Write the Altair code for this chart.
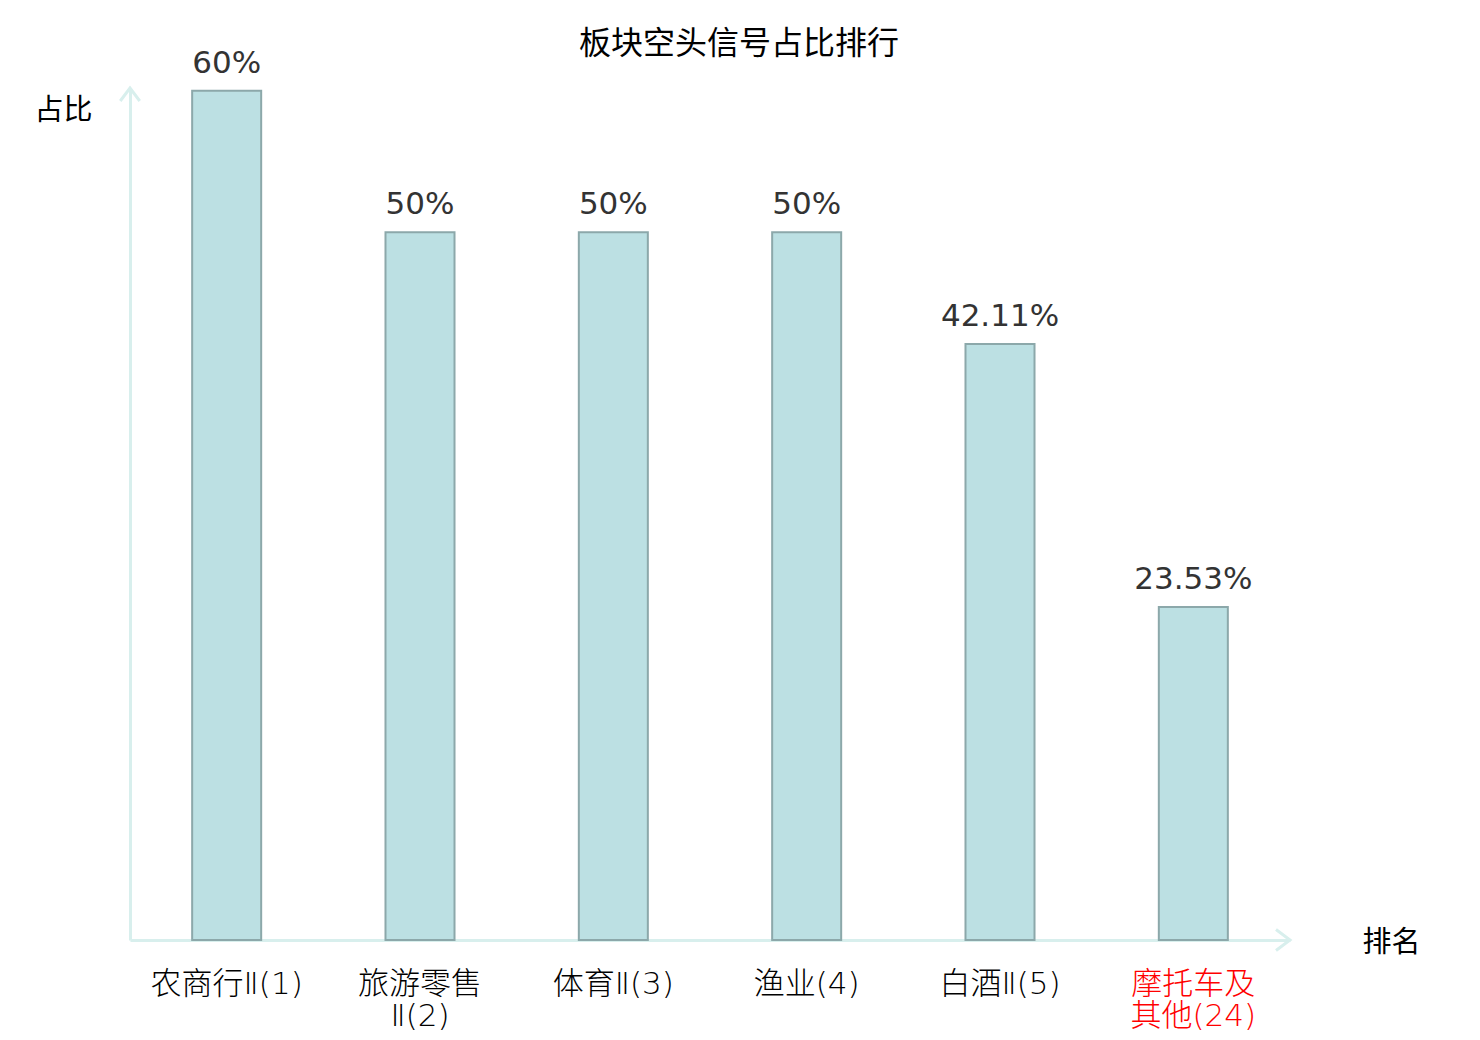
import altair as alt
import pandas as pd

# ---- data ----
categories = ["农商行Ⅱ(1)", "旅游零售\nⅡ(2)", "体育Ⅱ(3)", "渔业(4)", "白酒Ⅱ(5)", "摩托车及\n其他(24)"]
values = [60, 50, 50, 50, 42.11, 23.53]
value_labels = ["60%", "50%", "50%", "50%", "42.11%", "23.53%"]
title_text = "板块空头信号占比排行"
y_title = "占比"
x_title = "排名"
highlight_key = "摩托车"

df = pd.DataFrame({"cat": categories, "val": values, "lab": value_labels})

W, H = 1160, 852
YMAX = 60.2
CJK = "DejaVu Sans, Noto Sans CJK SC, sans-serif"
AXIS_COLOR = "#d8efed"

x_enc = alt.X(
    "cat:N", sort=None,
    scale=alt.Scale(paddingInner=0.643, paddingOuter=0.3215),
    axis=alt.Axis(
        title=x_title, titleAngle=0, titleX=1261, titleY=2,
        titleAlign="center", titleBaseline="middle",
        titleFontSize=29, titleFont=CJK, titleColor="#000000", titleFontWeight="normal",
        labelAngle=0, labelFontSize=31, labelFont=CJK, labelFontWeight=300, labelPadding=29,
        labelLineHeight=32, labelBaseline="top",
        labelExpr="split(datum.label, '\\n')",
        labelColor={"condition": {"test": f"indexof(datum.value, '{highlight_key}') >= 0", "value": "#ff0000"}, "value": "#000000"},
        ticks=False, tickSize=0, domainColor=AXIS_COLOR, domainWidth=3, grid=False,
    ),
)
y_enc = alt.Y(
    "val:Q", scale=alt.Scale(domain=[0, YMAX], nice=False, zero=True),
    axis=alt.Axis(
        title=y_title, titleAngle=0, titleX=-67, titleY=22,
        titleAlign="center", titleBaseline="middle",
        titleFontSize=29, titleFont=CJK, titleColor="#000000", titleFontWeight="normal",
        labels=False, ticks=False, tickSize=0, grid=False,
        domainColor=AXIS_COLOR, domainWidth=3,
    ),
)

base = alt.Chart(df)
bars = base.mark_bar(fill="#bce0e3", stroke="#8ca8aa", strokeWidth=2).encode(x=x_enc, y=y_enc)
texts = base.mark_text(
    font="DejaVu Sans", fontSize=31, color="#333333", baseline="alphabetic", dy=-18
).encode(x=alt.X("cat:N", sort=None), y="val:Q", text="lab:N")

arrow_df = pd.DataFrame({"k": ["y"]})
up_arrow = alt.Chart(arrow_df).mark_point(
    shape="M-0.75,1L0,0L0.75,1", size=676, filled=False, stroke=AXIS_COLOR, strokeWidth=3, opacity=1
).encode(x=alt.value(0), y=alt.datum(YMAX))
right_arrow = alt.Chart(arrow_df).mark_point(
    shape="M-1,-0.75L0,0L-1,0.75", size=784, filled=False, stroke=AXIS_COLOR, strokeWidth=3, opacity=1
).encode(x=alt.value(W), y=alt.datum(0))

chart = alt.layer(bars, texts, up_arrow, right_arrow).properties(
    width=W, height=H,
    title=alt.TitleParams(
        text=title_text, font=CJK, fontSize=32, fontWeight="normal", color="#000000",
        anchor="middle", frame="group", dx=29, offset=-13,
    ),
    background="#ffffff",
    autosize=alt.AutoSizeParams(type="none"),
    padding={"left": 122, "top": 80, "right": 182, "bottom": 92},
).configure_view(stroke="transparent", strokeWidth=0)

chart.save("out.html", embed_options={"renderer": "svg", "actions": False})
